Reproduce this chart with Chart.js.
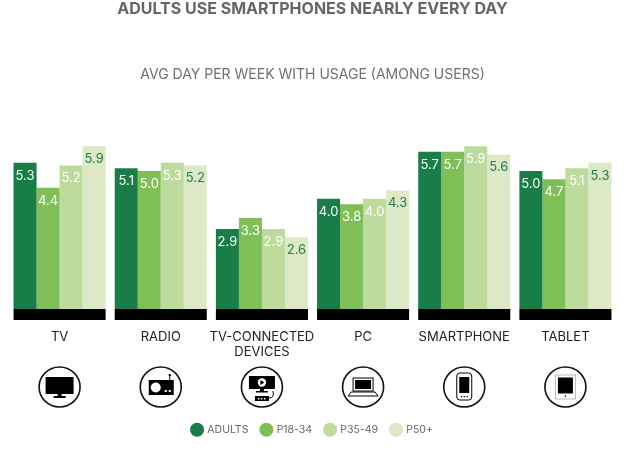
<!DOCTYPE html>
<html>
<head>
<meta charset="utf-8">
<script src="https://cdn.jsdelivr.net/npm/chart.js@4.4.0/dist/chart.umd.min.js"></script>
<style>
  html, body { margin: 0; padding: 0; background: #fff; }
  #wrap { width: 640px; height: 453px; position: relative; }
</style>
</head>
<body>
<div id="wrap"><canvas id="usage-chart"></canvas></div>
<script>
const categories = ['TV', 'RADIO', ['TV-CONNECTED', 'DEVICES'], 'PC', 'SMARTPHONE', 'TABLET'];
const iconKinds = ['tv', 'radio', 'tvconnected', 'pc', 'smartphone', 'tablet'];

const seriesNames = ['ADULTS', 'P18-34', 'P35-49', 'P50+'];
const adults = [5.3, 5.1, 2.9, 4.0, 5.7, 5.0];
const p1834 = [4.4, 5.0, 3.3, 3.8, 5.7, 4.7];
const p3549 = [5.2, 5.3, 2.9, 4.0, 5.9, 5.1];
const p50 = [5.9, 5.2, 2.6, 4.3, 5.6, 5.3];

const colors = ['#187d46', '#80bf57', '#bddb9c', '#dde9c6'];
const labelColors = ['#ffffff', '#ffffff', '#ffffff', '#1f7f48'];
const FONT = 'Inter, "Open Sans", sans-serif';

// value labels inside the top of each bar
const valueLabels = {
    id: 'valueLabels',
    afterDatasetsDraw(chart) {
        const ctx = chart.ctx;
        ctx.save();
        ctx.font = '13px ' + FONT;
        ctx.textAlign = 'center';
        ctx.textBaseline = 'middle';
        chart.data.datasets.forEach((ds, di) => {
            const meta = chart.getDatasetMeta(di);
            meta.data.forEach((bar, i) => {
                ctx.fillStyle = labelColors[di];
                ctx.fillText(ds.data[i].toFixed(1), bar.x, bar.y + 13);
            });
        });
        ctx.restore();
    }
};

// black base strip under each group + device icons
const groupBase = {
    id: 'groupBase',
    afterDatasetsDraw(chart) {
        const ctx = chart.ctx;
        const x = chart.scales.x;
        const y0 = chart.scales.y.getPixelForValue(0);
        const w = (x.width / categories.length) * 0.91;
        ctx.save();
        ctx.fillStyle = '#000';
        categories.forEach((c, i) => {
            const cx = x.getPixelForTick(i);
            ctx.fillRect(cx - w / 2, y0, w, 11);
        });
        ctx.restore();
    },
    afterDraw(chart) {
        const ctx = chart.ctx;
        const x = chart.scales.x;
        const cy = 387;
        ctx.save();
        iconKinds.forEach((kind, i) => {
            const cx = x.getPixelForTick(i);
            ctx.strokeStyle = '#111';
            ctx.lineWidth = 1.6;
            ctx.beginPath();
            ctx.ellipse(cx, cy, 20.5, 20, 0, 0, Math.PI * 2);
            ctx.stroke();
            drawIcon(ctx, kind, cx, cy);
        });
        ctx.restore();
    }
};

function drawIcon(ctx, kind, cx, cy) {
    ctx.fillStyle = '#000';
    ctx.strokeStyle = '#000';
    ctx.lineWidth = 1;
    if (kind === 'tv') {
        ctx.fillRect(cx - 14, cy - 10, 28, 17);
        ctx.fillRect(cx - 2, cy + 7, 4, 3);
        ctx.fillRect(cx - 6, cy + 9, 12, 2);
    } else if (kind === 'radio') {
        ctx.fillRect(cx - 12, cy - 7, 25, 15);
        ctx.fillStyle = '#fff';
        ctx.beginPath();
        ctx.arc(cx - 5, cy + 0.5, 5, 0, Math.PI * 2);
        ctx.fill();
        ctx.fillRect(cx + 4, cy + 3, 2, 2);
        ctx.fillRect(cx + 8, cy + 3, 2, 2);
        ctx.beginPath();
        ctx.moveTo(cx + 9, cy - 7);
        ctx.lineTo(cx + 9, cy - 12);
        ctx.stroke();
        ctx.fillStyle = '#000';
        ctx.fillRect(cx + 8, cy - 13, 2, 2);
    } else if (kind === 'tvconnected') {
        ctx.fillRect(cx - 13, cy - 11, 26, 13);
        ctx.fillRect(cx - 2, cy + 2, 4, 3);
        ctx.fillRect(cx - 6, cy + 4, 12, 1.5);
        ctx.fillRect(cx - 7, cy + 9, 14, 5);
        ctx.fillStyle = '#fff';
        ctx.beginPath();
        ctx.arc(cx, cy - 4.5, 4.2, 0, Math.PI * 2);
        ctx.fill();
        ctx.fillRect(cx - 4, cy + 11, 1.5, 1.5);
        ctx.fillRect(cx - 1, cy + 11, 1.5, 1.5);
        ctx.fillRect(cx + 2, cy + 11, 1.5, 1.5);
        ctx.fillStyle = '#000';
        ctx.beginPath();
        ctx.moveTo(cx - 1.5, cy - 7);
        ctx.lineTo(cx + 2.5, cy - 4.5);
        ctx.lineTo(cx - 1.5, cy - 2);
        ctx.closePath();
        ctx.fill();
        ctx.beginPath();
        ctx.moveTo(cx + 7, cy + 11);
        ctx.quadraticCurveTo(cx + 13, cy + 11, cx + 11, cy + 4);
        ctx.stroke();
    } else if (kind === 'pc') {
        ctx.strokeRect(cx - 10, cy - 9, 20, 13);
        ctx.fillRect(cx - 8, cy - 7, 16, 9);
        ctx.beginPath();
        ctx.moveTo(cx - 12, cy + 5);
        ctx.lineTo(cx + 12, cy + 5);
        ctx.lineTo(cx + 15, cy + 9);
        ctx.lineTo(cx - 15, cy + 9);
        ctx.closePath();
        ctx.stroke();
    } else if (kind === 'smartphone') {
        ctx.beginPath();
        ctx.roundRect(cx - 7.5, cy - 14, 15, 27, 3);
        ctx.stroke();
        ctx.fillRect(cx - 5, cy - 10, 10, 16);
        ctx.fillRect(cx - 3.5, cy + 9, 1.3, 1.3);
        ctx.fillRect(cx - 0.6, cy + 9, 1.3, 1.3);
        ctx.fillRect(cx + 2.3, cy + 9, 1.3, 1.3);
    } else if (kind === 'tablet') {
        ctx.strokeStyle = '#bbb';
        ctx.strokeRect(cx - 10, cy - 12, 20, 24);
        ctx.fillRect(cx - 7.5, cy - 9.5, 15, 16);
        ctx.fillRect(cx - 0.7, cy + 8.5, 1.4, 1.4);
    }
}

const datasets = [adults, p1834, p3549, p50].map((values, i) => ({
    label: seriesNames[i],
    data: values,
    backgroundColor: colors[i],
    borderWidth: 0,
    categoryPercentage: 0.91,
    barPercentage: 1.0
}));

new Chart(document.getElementById('usage-chart'), {
    type: 'bar',
    data: { labels: categories, datasets: datasets },
    plugins: [groupBase, valueLabels],
    options: {
        responsive: true,
        maintainAspectRatio: false,
        animation: false,
        layout: { padding: { left: 9, right: 24, top: 0, bottom: 8 } },
        scales: {
            x: {
                grid: { display: false, drawTicks: false },
                border: { display: false },
                ticks: {
                    color: '#222',
                    font: { family: FONT, size: 13, lineHeight: 1.15 },
                    padding: 21,
                    maxRotation: 0,
                    autoSkip: false
                },
                afterFit(scale) { scale.height = 102.5; }
            },
            y: {
                display: false,
                min: 0,
                max: 6.2
            }
        },
        plugins: {
            title: {
                display: true,
                text: 'ADULTS USE SMARTPHONES NEARLY EVERY DAY',
                color: '#666',
                font: { family: FONT, size: 16, weight: 'bold' },
                padding: { top: 0, bottom: 47 }
            },
            subtitle: {
                display: true,
                text: 'AVG DAY PER WEEK WITH USAGE (AMONG USERS)',
                color: '#707070',
                font: { family: FONT, size: 14, weight: 'normal' },
                padding: { top: 0, bottom: 55 }
            },
            legend: {
                position: 'bottom',
                labels: {
                    usePointStyle: true,
                    pointStyle: 'circle',
                    boxWidth: 10,
                    boxHeight: 10,
                    padding: 13,
                    color: '#666',
                    font: { family: FONT, size: 10.5 }
                }
            },
            tooltip: { enabled: false }
        }
    }
});
</script>
</body>
</html>
